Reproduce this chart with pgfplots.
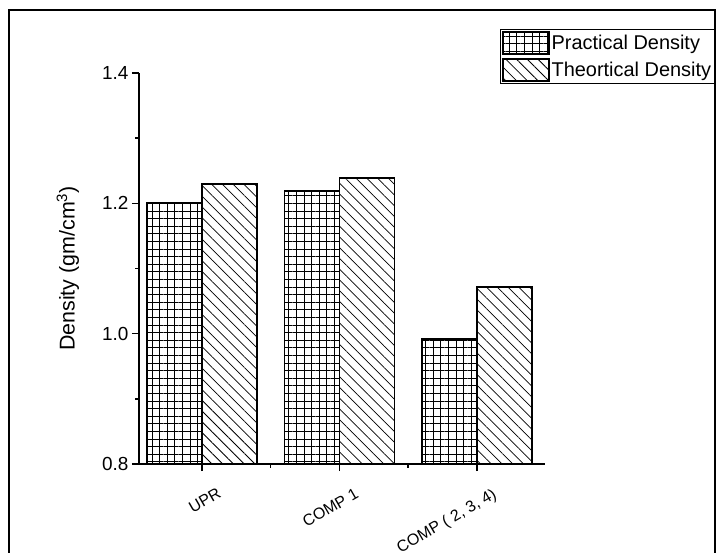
\documentclass[border=0pt]{standalone}
\usepackage{pgfplots}
\pgfplotsset{compat=1.18}
\usepackage{fontspec}
\setmainfont{Liberation Sans}
\usetikzlibrary{patterns.meta}
\begin{document}
\begin{tikzpicture}
\useasboundingbox (-139bp,-89bp) rectangle (577bp,464bp);
\begin{axis}[
  scale only axis, width=406bp, height=391bp,
  at={(0,0)}, anchor=south west,
  axis x line=bottom, axis y line=left,
  axis line style={-, line width=1.8bp},
  xmin=0.542, xmax=3.495, ymin=0.8, ymax=1.4,
  xtick={1,2,3}, xticklabels={UPR, COMP 1, {COMP ( 2, 3, 4)}},
  minor xtick={1.5,2.5,3.5},
  ytick={0.8,1.0,1.2,1.4}, minor ytick={0.9,1.1,1.3},
  tick align=outside,
  major tick length=7bp, minor tick length=3.5bp,
  every tick/.style={line width=1.5bp, black},
  /pgf/number format/assume math mode=true,
  yticklabel style={/pgf/number format/fixed, /pgf/number format/fixed zerofill, /pgf/number format/precision=1,
    font=\fontsize{19}{21}\selectfont},
  xticklabel style={font=\fontsize{16}{18}\selectfont, rotate=30, anchor=north east, xshift=8bp, yshift=-18bp},
  ylabel={Density (gm/cm\textsuperscript{3})},
  ylabel style={font=\fontsize{21.5}{24}\selectfont, at={(axis description cs:-0.175,0.5)}, anchor=center},
  ybar=0pt, bar width=55bp,
  clip=false,
  legend style={at={(axis description cs:1.4187,1.1125)}, anchor=north east, draw=black, line width=0.8bp,
    inner sep=1.5bp, row sep=3bp, font=\fontsize{20}{22}\selectfont, cells={anchor=west}},
  legend image code/.code={\draw[#1, line width=1.8bp] (-3bp,-11bp) rectangle (43bp,11bp);},
]
\addplot[draw=black, line width=1.8bp, pattern={Hatch[angle=0, distance=7.6bp, line width=0.8bp]}, pattern color=black]
  coordinates {(1,1.200) (2,1.219) (3,0.992)};
\addplot[draw=black, line width=1.8bp, pattern={Lines[angle=-45, distance=7.6bp, line width=0.8bp]}, pattern color=black]
  coordinates {(1,1.230) (2,1.239) (3,1.072)};
\legend{Practical Density, Theortical Density}
\end{axis}
\draw[line width=1.5bp] (-130bp,-100bp) -- (-130bp,454bp) -- (576bp,454bp) -- (576bp,-100bp);
\end{tikzpicture}
\end{document}
